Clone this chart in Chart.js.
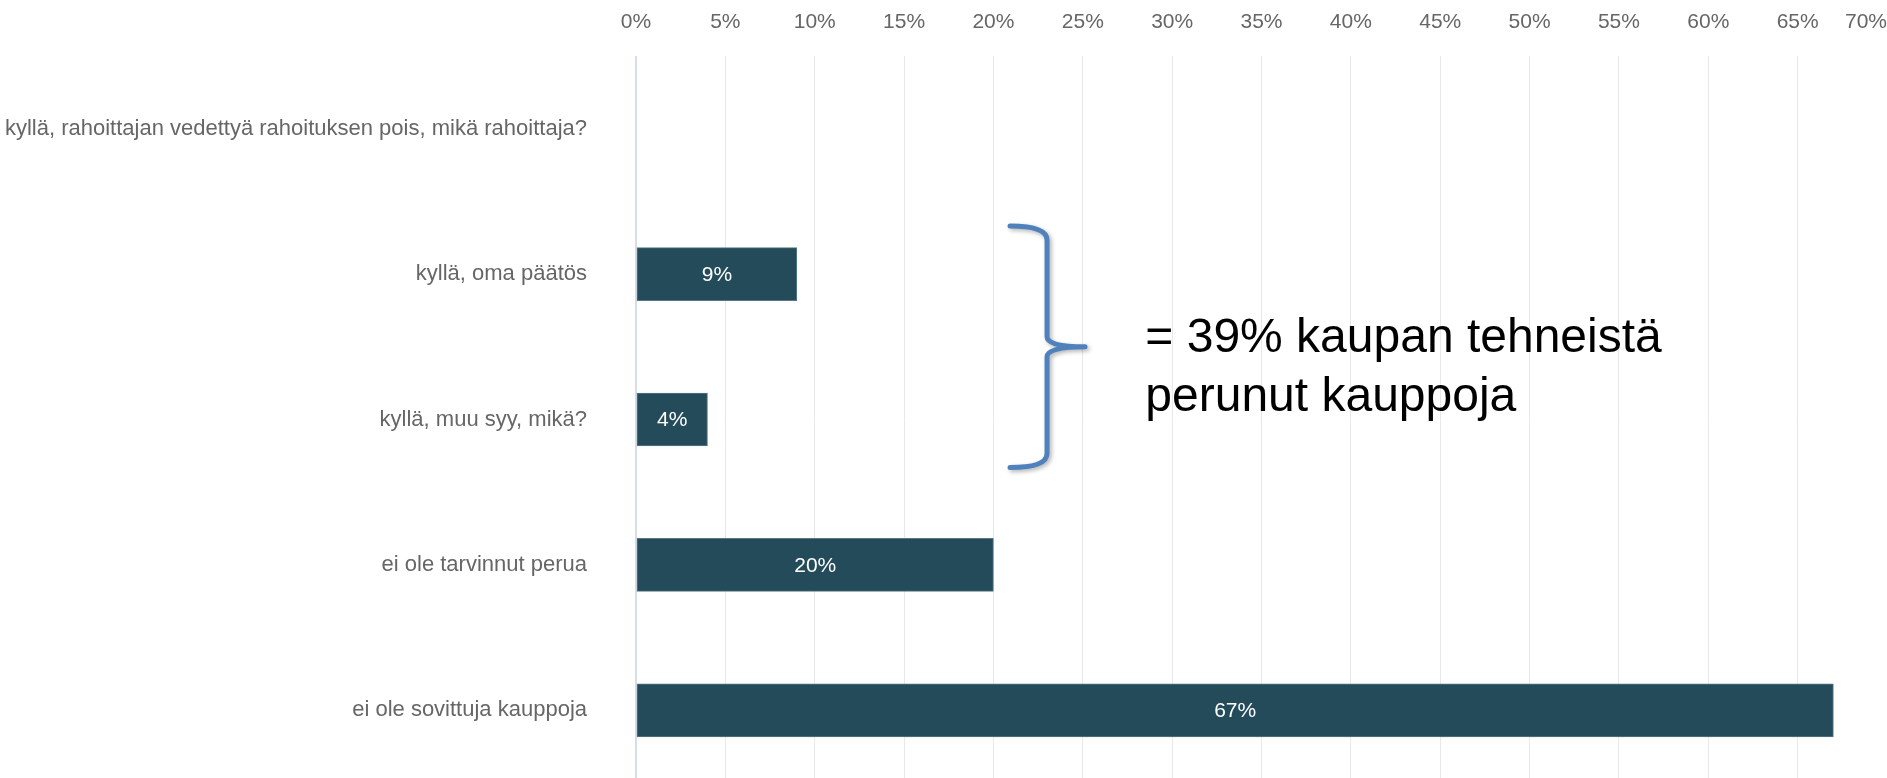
<!DOCTYPE html>
<html>
<head>
<meta charset="utf-8">
<script src="https://cdn.jsdelivr.net/npm/chart.js@4/dist/chart.umd.min.js"></script>
<style>
    html, body { margin: 0; padding: 0; background: #fff; overflow: hidden; }
    #wrap { position: relative; width: 1887px; height: 783px; }
</style>
</head>
<body>
<div id="wrap"><canvas id="cancelChart"></canvas></div>
<script>
// chart data
var categories = [
    'kyllä, rahoittajan vedettyä rahoituksen pois, mikä rahoittaja?',
    'kyllä, oma päätös',
    'kyllä, muu syy, mikä?',
    'ei ole tarvinnut perua',
    'ei ole sovittuja kauppoja'
];
var shares = [0, 9, 4, 20, 67];
var tickStep = 5;
var tickMax = 70;
var noteLines = ['= 39% kaupan tehneistä', 'perunut kauppoja'];
var bracedRows = [1, 2];

Chart.defaults.font.family = "'Liberation Sans', Arial, sans-serif";
Chart.defaults.color = '#666';

// white percentage labels in the middle of each bar
var barLabels = {
    id: 'barLabels',
    afterDatasetsDraw: function(chart) {
        var ctx = chart.ctx;
        var meta = chart.getDatasetMeta(0);
        ctx.save();
        ctx.font = "21px 'Liberation Sans', Arial, sans-serif";
        ctx.fillStyle = '#fff';
        ctx.textAlign = 'center';
        ctx.textBaseline = 'middle';
        meta.data.forEach(function(bar, i) {
            if (!shares[i]) return;
            ctx.fillText(shares[i] + '%', (bar.x + bar.base) / 2, bar.y + 1);
        });
        ctx.restore();
    }
};

// curly brace + note text
var braceNote = {
    id: 'braceNote',
    afterDraw: function(chart) {
        var ctx = chart.ctx;
        var xs = chart.scales.x, ys = chart.scales.y;
        var yTop = ys.getPixelForValue(bracedRows[0]) - 48;
        var yBot = ys.getPixelForValue(bracedRows[1]) + 48;
        var yMid = (yTop + yBot) / 2;
        var xV = xs.getPixelForValue(23);
        var xL = xV - 37, xT = xV + 38;

        ctx.save();
        ctx.strokeStyle = '#4f81bd';
        ctx.lineWidth = 5;
        ctx.lineCap = 'round';
        ctx.lineJoin = 'round';
        ctx.shadowColor = 'rgba(0,0,0,0.3)';
        ctx.shadowBlur = 4;
        ctx.shadowOffsetX = 2;
        ctx.shadowOffsetY = 2;
        ctx.beginPath();
        ctx.moveTo(xL, yTop);
        ctx.quadraticCurveTo(xV, yTop, xV, yTop + 14);
        ctx.lineTo(xV, yMid - 10);
        ctx.quadraticCurveTo(xV, yMid, xT, yMid);
        ctx.moveTo(xT, yMid);
        ctx.quadraticCurveTo(xV, yMid, xV, yMid + 10);
        ctx.lineTo(xV, yBot - 14);
        ctx.quadraticCurveTo(xV, yBot, xL, yBot);
        ctx.stroke();
        ctx.restore();

        ctx.save();
        ctx.font = "48px 'Liberation Sans', Arial, sans-serif";
        ctx.fillStyle = '#000';
        ctx.textAlign = 'left';
        ctx.textBaseline = 'alphabetic';
        var tx = xs.getPixelForValue(28.5);
        ctx.fillText(noteLines[0], tx, yMid + 5);
        ctx.fillText(noteLines[1], tx, yMid + 64);
        ctx.restore();
    }
};

// keep the last x tick label inside the canvas
var lastTickRight = {
    id: 'lastTickRight',
    beforeDraw: function(chart) {
        var items = chart.scales.x.getLabelItems();
        if (items.length) items[items.length - 1].options.textAlign = 'right';
    }
};

var ctx = document.getElementById('cancelChart').getContext('2d');
var cancelChart = new Chart(ctx, {
    type: 'bar',
    data: {
        labels: categories,
        datasets: [{
            data: shares,
            backgroundColor: '#234b5a',
            borderColor: '#5a7884',
            borderWidth: 1,
            borderSkipped: false,
            barThickness: 53
        }]
    },
    options: {
        indexAxis: 'y',
        responsive: true,
        maintainAspectRatio: false,
        animation: false,
        layout: { padding: 0 },
        plugins: {
            legend: { display: false },
            tooltip: { enabled: false }
        },
        scales: {
            x: {
                position: 'top',
                min: 0,
                max: tickMax,
                grid: {
                    color: function(c) { return c.tick && c.tick.value === 0 ? '#d6dcea' : '#e8e8e8'; },
                    lineWidth: function(c) { return c.tick && c.tick.value === 0 ? 2 : 1; },
                    drawTicks: false
                },
                border: { display: false },
                ticks: {
                    stepSize: tickStep,
                    padding: 21,
                    color: '#666',
                    font: { size: 21 },
                    maxRotation: 0,
                    callback: function(v) { return v + '%'; }
                },
                afterFit: function(s) { s.height = 56; s.paddingRight = 0; }
            },
            y: {
                grid: { display: false, drawTicks: false },
                border: { display: false },
                ticks: {
                    padding: 49,
                    color: '#666',
                    font: { size: 22 }
                },
                afterFit: function(s) { s.width = 636; s.paddingTop = 0; s.paddingBottom = 0; }
            }
        }
    },
    plugins: [barLabels, braceNote, lastTickRight]
});
</script>
</body>
</html>
